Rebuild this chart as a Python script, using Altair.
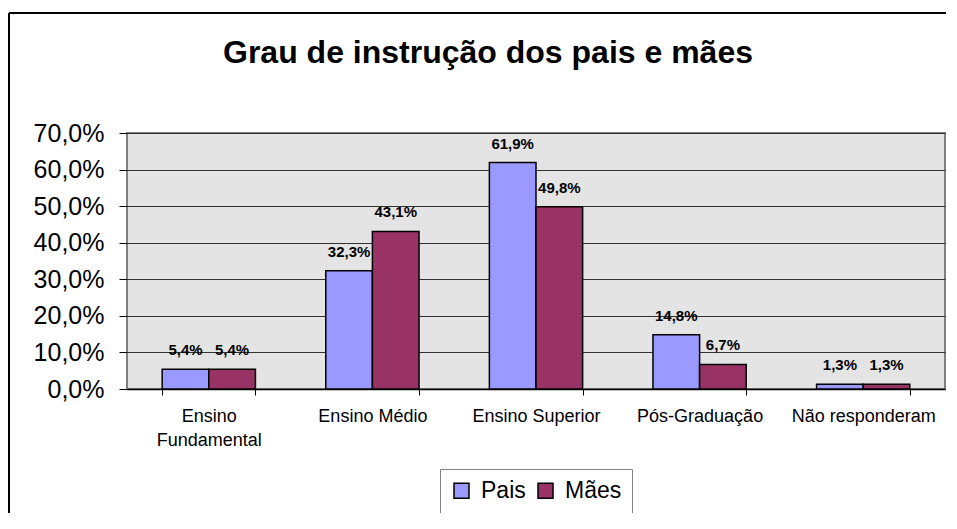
import altair as alt
import pandas as pd

FONT = "Liberation Sans"

categories = ["Ensino Fundamental", "Ensino Médio", "Ensino Superior", "Pós-Graduação", "Não responderam"]
series = ["Pais", "Mães"]
pais = [5.4, 32.3, 61.9, 14.8, 1.3]
maes = [5.4, 43.1, 49.8, 6.7, 1.3]
y_ticks = [0, 10, 20, 30, 40, 50, 60, 70]
colors = ["#9999FF", "#993366"]
title_text = "Grau de instrução dos pais e mães"

rows = []
for c, p, m in zip(categories, pais, maes):
    rows.append({"categoria": c, "serie": "Pais", "valor": p})
    rows.append({"categoria": c, "serie": "Mães", "valor": m})
df = pd.DataFrame(rows)
df["rotulo"] = df["valor"].map(lambda v: f"{v:.1f}".replace(".", ",") + "%")

W, H = 818, 256

x_enc = alt.X(
    "categoria:N",
    sort=categories,
    scale=alt.Scale(paddingInner=0.43, paddingOuter=0.215),
    axis=alt.Axis(
        title=None, labelAngle=0, labelFont=FONT, labelFontSize=18, labelColor="black",
        labelPadding=12, labelLineHeight=24, labelOverlap=False, labelLimit=0,
        labelExpr="datum.label == 'Ensino Fundamental' ? ['Ensino', 'Fundamental'] : datum.label",
        tickBand="extent", tickSize=6, tickColor="black", tickWidth=1,
        domainColor="black", domainWidth=1.5, grid=False,
    ),
)
xo_enc = alt.XOffset("serie:N", sort=series)
y_enc = alt.Y(
    "valor:Q",
    scale=alt.Scale(domain=[0, 70], nice=False),
    axis=alt.Axis(
        title=None, values=y_ticks, labelFont=FONT, labelFontSize=25, labelColor="black",
        labelPadding=15, tickSize=8, tickColor="black", tickWidth=1,
        labelExpr="replace(format(datum.value, '.1f'), '.', ',') + '%'",
        domain=False, grid=True, gridColor="#333333", gridWidth=1,
    ),
)

base = alt.Chart(df)

bars = base.mark_bar(stroke="black", strokeWidth=1.5).encode(
    x=x_enc,
    xOffset=xo_enc,
    y=y_enc,
    color=alt.Color(
        "serie:N", sort=series,
        scale=alt.Scale(domain=series, range=colors),
        legend=alt.Legend(
            title=None, orient="none", legendX=313, legendY=336, direction="horizontal",
            symbolType="square", symbolSize=225, symbolStrokeColor="black",
            symbolStrokeWidth=1.5, symbolOpacity=1,
            labelFont=FONT, labelFontSize=23, labelColor="black", labelOffset=8,
            columnPadding=8, padding=10, strokeColor="#808080", fillColor="white",
        ),
    ),
)

labels = base.mark_text(
    font=FONT, fontSize=15, fontWeight="bold", color="black",
    baseline="alphabetic", align="center", dy=-14,
).encode(x=x_enc, xOffset=xo_enc, y=y_enc, text="rotulo:N")

one = alt.Chart(pd.DataFrame({"k": [0]}))

title = one.mark_text(
    font=FONT, fontSize=32, fontWeight="bold", color="black",
    align="center", baseline="alphabetic",
).encode(x=alt.value(361), y=alt.value(-70), text=alt.value(title_text))

border_left = one.mark_rule(color="black", strokeWidth=2).encode(
    x=alt.value(-118), y=alt.value(-120), y2=alt.value(420)
)
border_top = one.mark_rule(color="black", strokeWidth=2).encode(
    x=alt.value(-118), x2=alt.value(840), y=alt.value(-120)
)

chart = alt.layer(bars, labels, title, border_left, border_top).properties(
    width=W, height=H,
    autosize=alt.AutoSizeParams(type="none"),
    padding={"left": 119, "top": 125, "right": 1, "bottom": 124},
    background="white",
).configure_view(
    fill="#e4e4e4", stroke="#808080", strokeWidth=2
)

chart.save("out.html", embed_options={"renderer": "svg", "actions": False})
